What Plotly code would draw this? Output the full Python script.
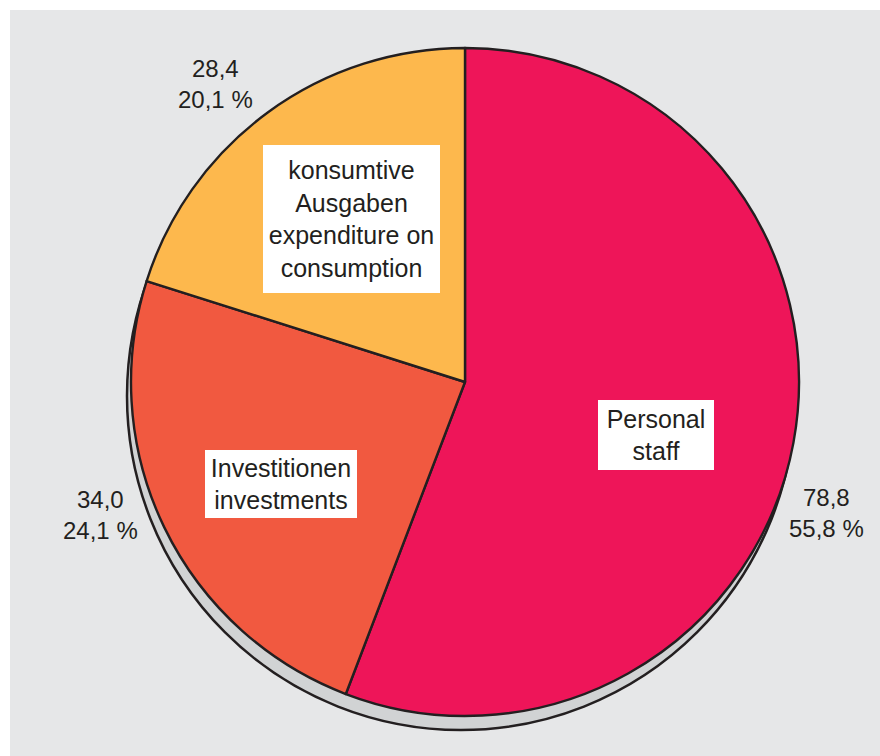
"""Pie chart: Ausgaben nach Art / expenditure by type."""

import plotly.graph_objects as go

W, H = 880, 756

labels_de = ["Personal", "Investitionen", "konsumtive<br>Ausgaben"]
labels_en = ["staff", "investments", "expenditure on<br>consumption"]
values = [78.8, 34.0, 28.4]
colors = ["#ee1559", "#f15940", "#fdb84d"]

TEXT = "#231f20"
FONT = "Liberation Sans, Arial, sans-serif"


def px_x(x):
    return x / W


def px_y(y):
    return 1 - y / H


def de_num(v, digits=1):
    return f"{v:.{digits}f}".replace(".", ",")


# pie geometry in pixels
cx, cy, r = 465, 382, 334
shadow_dx, shadow_dy = -4, 14

fig = go.Figure()
fig.add_trace(
    go.Pie(
        labels=[a.replace("<br>", " ") for a in labels_de],
        values=values,
        sort=False,
        direction="clockwise",
        rotation=0,
        textinfo="none",
        hoverinfo="label+value+percent",
        marker={"colors": colors, "line": {"color": "#231f20", "width": 2.4}},
        domain={
            "x": [px_x(cx - r), px_x(cx + r)],
            "y": [px_y(cy + r), px_y(cy - r)],
        },
        showlegend=False,
    )
)

shapes = [
    # grey panel
    dict(
        type="rect", xref="paper", yref="paper",
        x0=px_x(10), x1=1, y0=0, y1=px_y(10),
        fillcolor="#e6e7e8", line={"width": 0}, layer="below",
    ),
    # drop shadow of the pie
    dict(
        type="circle", xref="paper", yref="paper",
        x0=px_x(cx - r + shadow_dx), x1=px_x(cx + r + shadow_dx),
        y0=px_y(cy + r + shadow_dy), y1=px_y(cy - r + shadow_dy),
        fillcolor="#d1d3d4", line={"color": "#231f20", "width": 2.5},
        layer="below",
    ),
]

total = sum(values)
annotations = []

# white label boxes inside the slices: (center x, center y, width, height)
boxes = [(656, 435, 116, 70), (281, 484, 152, 68), (351.5, 219, 177, 148)]
for de, en, (bx, by, bw, bh) in zip(labels_de, labels_en, boxes):
    annotations.append(
        dict(
            x=px_x(bx), y=px_y(by), xref="paper", yref="paper",
            xanchor="center", yanchor="middle",
            text=f"{de}<br>{en}", showarrow=False,
            width=bw, height=bh, align="center", valign="middle",
            bgcolor="white", borderwidth=0, borderpad=0,
            font={"family": FONT, "size": 25, "color": TEXT},
        )
    )

# value / share labels outside the pie
value_pos = [(826, 513), (100, 515), (215, 84)]
for v, (lx, ly) in zip(values, value_pos):
    annotations.append(
        dict(
            x=px_x(lx), y=px_y(ly), xref="paper", yref="paper",
            xanchor="center", yanchor="middle",
            text=f"{de_num(v)}<br>{de_num(v / total * 100)} %",
            showarrow=False, align="center",
            font={"family": FONT, "size": 24, "color": TEXT},
        )
    )

fig.update_layout(
    width=W,
    height=H,
    margin={"l": 0, "r": 0, "t": 0, "b": 0},
    paper_bgcolor="white",
    plot_bgcolor="white",
    shapes=shapes,
    annotations=annotations,
)

# the page body has a default 8px margin; drop it so the figure fills the window
fig.write_html(
    "out.html",
    config={"displayModeBar": False},
    post_script="document.body.style.margin = '0';",
)
